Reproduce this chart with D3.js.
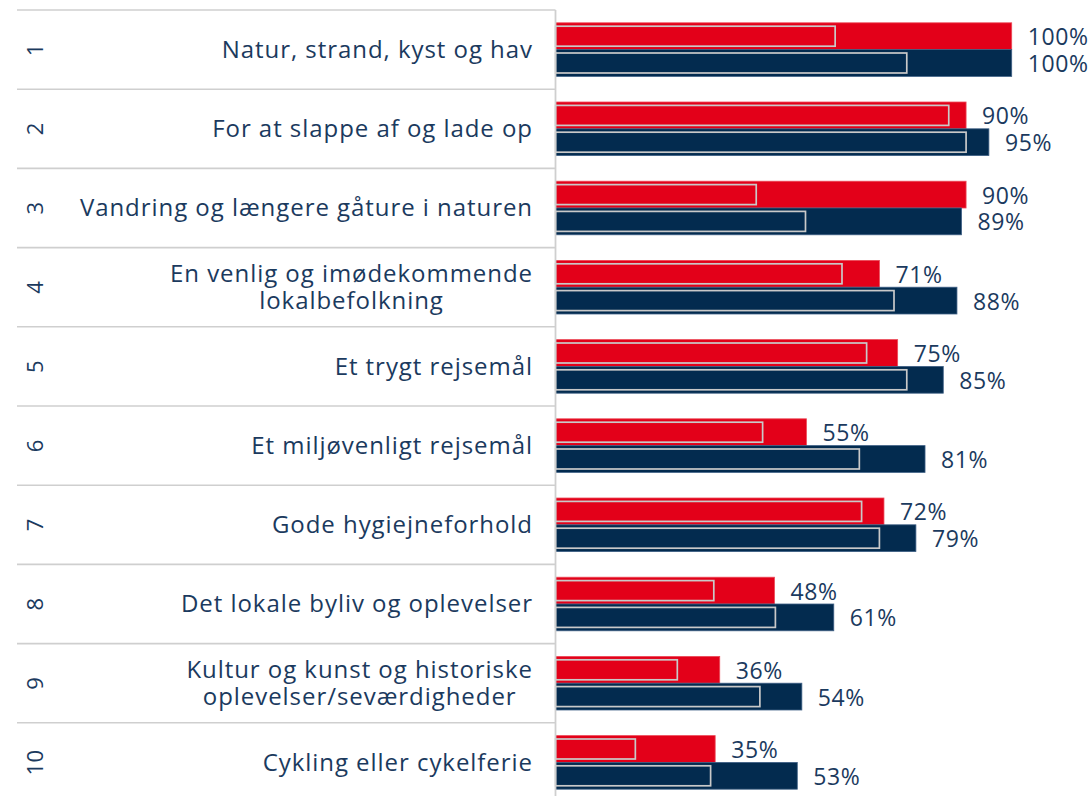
<!DOCTYPE html>
<html>
<head>
<meta charset="utf-8">
<script src="https://cdn.jsdelivr.net/npm/d3@7"></script>
<style>
  html, body { margin: 0; padding: 0; background: #fff; }
  svg { display: block; font-family: "Open Sans", sans-serif; }
</style>
</head>
<body>
<svg id="chart" width="1089" height="796"></svg>
<script>
const svg = d3.select("#chart");

// data
const ranks = [1, 2, 3, 4, 5, 6, 7, 8, 9, 10];
const categories = [
    "Natur, strand, kyst og hav",
    "For at slappe af og lade op",
    "Vandring og længere gåture i naturen",
    "En venlig og imødekommende\nlokalbefolkning",
    "Et trygt rejsemål",
    "Et miljøvenligt rejsemål",
    "Gode hygiejneforhold",
    "Det lokale byliv og oplevelser",
    "Kultur og kunst og historiske\noplevelser/seværdigheder",
    "Cykling eller cykelferie"
];
const redValues  = [100, 90, 90, 71, 75, 55, 72, 48, 36, 35];
const navyValues = [100, 95, 89, 88, 85, 81, 79, 61, 54, 53];
// unlabelled outlined bars inside
const redInner  = [61.3, 86.2, 44.0, 62.8, 68.2, 45.4, 67.1, 34.7, 26.7, 17.5];
const navyInner = [77.0, 90.0, 54.8, 74.2, 77.0, 66.6, 71.0, 48.2, 44.8, 34.0];
const seriesKeys = ["red", "navy"];

const RED = "#e30019";
const NAVY = "#032b4f";
const TEXT = "#1b3a5e";
const GRID = "#cfcfcf";

const rows = categories.map((c, i) => ({
    rank: ranks[i],
    label: c,
    bars: [
        { key: "red", value: redValues[i], inner: redInner[i] },
        { key: "navy", value: navyValues[i], inner: navyInner[i] }
    ]
}));

const x = d3.scaleLinear().domain([0, 100]).range([555.5, 1011.7]);
const y = d3.scaleBand().domain(categories).range([10, 10 + 79.2 * categories.length]);
const ySub = d3.scaleBand().domain(seriesKeys).range([0, y.bandwidth()])
    .paddingInner(0).paddingOuter(0.478);

const fill = { red: RED, navy: NAVY };
const edge = { red: "#ec4a58", navy: "#3f6085" };

// table grid
svg.append("g").selectAll("line")
    .data(categories)
    .enter().append("line")
    .attr("x1", 17).attr("x2", x(0))
    .attr("y1", d => y(d)).attr("y2", d => y(d))
    .attr("stroke", GRID).attr("stroke-width", 1.6);

// rank numbers (rotated)
svg.append("g").selectAll("text")
    .data(rows)
    .enter().append("text")
    .attr("transform", d => `translate(35,${y(d.label) + y.bandwidth() / 2}) rotate(-90)`)
    .attr("text-anchor", "middle")
    .attr("dy", "0.35em")
    .attr("font-size", 22)
    .attr("letter-spacing", 0.5)
    .attr("fill", TEXT)
    .text(d => d.rank);

// category labels: longest line ends at 533, lines centred on each other
const labelRight = 533;
const labels = svg.append("g").selectAll("text")
    .data(rows)
    .enter().append("text")
    .attr("text-anchor", "middle")
    .attr("font-size", 24)
    .attr("letter-spacing", 0.95)
    .attr("fill", TEXT);

labels.each(function(d) {
    const lines = d.label.split("\n");
    const cy = y(d.label) + y.bandwidth() / 2;
    const t = d3.select(this);
    const spans = t.selectAll("tspan")
        .data(lines)
        .enter().append("tspan")
        .attr("y", (l, i) => cy + (i - (lines.length - 1) / 2) * 27.6)
        .attr("dy", "0.35em")
        .text(l => l);
    const w = d3.max(spans.nodes(), n => n.getComputedTextLength());
    spans.attr("x", labelRight - w / 2);
});

// bars
const groups = svg.append("g").selectAll("g")
    .data(rows)
    .enter().append("g")
    .attr("transform", d => `translate(0,${y(d.label)})`);

groups.selectAll("rect.outer")
    .data(d => d.bars)
    .enter().append("rect")
    .attr("class", "outer")
    .attr("x", x(0))
    .attr("y", d => ySub(d.key))
    .attr("width", d => x(d.value) - x(0))
    .attr("height", ySub.bandwidth())
    .attr("fill", d => fill[d.key])
    .attr("stroke", d => edge[d.key])
    .attr("stroke-width", 0.8);

groups.selectAll("rect.inner")
    .data(d => d.bars)
    .enter().append("rect")
    .attr("class", "inner")
    .attr("x", x(0))
    .attr("y", d => ySub(d.key) + 3.4)
    .attr("width", d => x(d.inner) - x(0))
    .attr("height", ySub.bandwidth() - 6.8)
    .attr("fill", "none")
    .attr("stroke", "#c9c9c9")
    .attr("stroke-width", 1.7);

groups.selectAll("text")
    .data(d => d.bars)
    .enter().append("text")
    .attr("x", d => x(d.value) + 16)
    .attr("y", d => ySub(d.key) + ySub.bandwidth() / 2 + 1)
    .attr("dy", "0.35em")
    .attr("font-size", 23)
    .attr("letter-spacing", 0.6)
    .attr("fill", TEXT)
    .text(d => d.value + "%");

// vertical axis line
svg.append("line")
    .attr("x1", x(0)).attr("x2", x(0))
    .attr("y1", 10).attr("y2", 796)
    .attr("stroke", GRID).attr("stroke-width", 1.8);
</script>
</body>
</html>
